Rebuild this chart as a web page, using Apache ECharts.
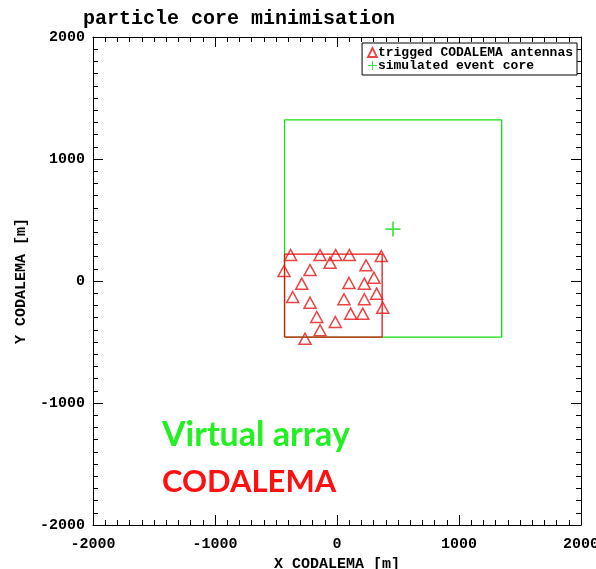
<!DOCTYPE html>
<html>
<head>
<meta charset="utf-8">
<script src="https://cdn.jsdelivr.net/npm/echarts@6/dist/echarts.min.js"></script>
<style>html,body{margin:0;padding:0;background:#fff;}#c{width:596px;height:569px;}</style>
</head>
<body>
<div id="c"></div>
<script>
// ---- data ----
const antennaX = [-380,-139,-11,101,363,-57,-434,-221,238,303,-289,98,224,325,-363,57,224,-221,375,112,211,-166,-14,-139,-262];
const antennaY = [213,213,213,213,205,150,82,90,129,27,-22,-16,-22,-104,-131,-150,-150,-178,-219,-268,-268,-295,-336,-404,-473];
const coreX = [459];
const coreY = [426];
const virtualBoxX = [-430, 1350];
const virtualBoxY = [-460, 1320];
const codalemaBoxX = [-430, 370];
const codalemaBoxY = [-460, 220];
const axisMin = -2000, axisMax = 2000, axisStep = 1000;

function boxPath(bx, by) {
  return [[bx[0],by[0]],[bx[1],by[0]],[bx[1],by[1]],[bx[0],by[1]],[bx[0],by[0]]];
}
const antennaPts = antennaX.map((x,i)=>[x, antennaY[i]]);
const corePts = coreX.map((x,i)=>[x, coreY[i]]);

const MONO = '"Liberation Mono", "DejaVu Sans Mono", monospace';
const GREEN = '#10e010';
const RED = '#e41414';
const CROSS = 'path://M6.2,0H7.8V6.2H14V7.8H7.8V14H6.2V7.8H0V6.2H6.2Z';

function mkAxis(pos, showLabel, name, isY) {
  return {
    type: 'value', position: pos, min: axisMin, max: axisMax, interval: axisStep,
    name: showLabel ? name : '', nameLocation: 'middle',
    nameGap: isY ? 50 : 27,
    nameTextStyle: {fontFamily: MONO, fontSize: 15, fontWeight: 'bold', color: '#000'},
    axisLine: {show: true, onZero: false, lineStyle: {color: '#000', width: 1}},
    axisTick: {show: true, inside: true, length: 10, lineStyle: {color: '#000'}},
    minorTick: {show: true, splitNumber: 10, length: 5, lineStyle: {color: '#000'}},
    splitLine: {show: false},
    axisLabel: {show: showLabel, fontFamily: MONO, fontSize: 15, fontWeight: 'bold', color: '#000',
      margin: isY ? 8 : 12, showMinLabel: true, showMaxLabel: true, hideOverlap: false,
      formatter: v => String(v)},
  };
}

const chart = echarts.init(document.getElementById('c'), null, {renderer: 'canvas'});
chart.setOption({
  animation: false,
  backgroundColor: '#fff',
  title: {
    text: 'particle core minimisation', left: 78, top: 4,
    textStyle: {fontFamily: MONO, fontSize: 20, fontWeight: 'bold', color: '#000'}
  },
  grid: {left: 93, top: 37, width: 488, height: 488, outerBoundsMode: 'none', containLabel: false},
  xAxis: [mkAxis('bottom', true, 'X CODALEMA [m]', false), mkAxis('top', false, '', false)],
  yAxis: [mkAxis('left', true, 'Y CODALEMA [m]', true), mkAxis('right', false, '', true)],
  legend: {
    orient: 'vertical', right: 19, top: 43,
    padding: [3, 4, 3, 5], itemGap: 0, itemWidth: 9, itemHeight: 9,
    borderColor: '#000', borderWidth: 1, backgroundColor: '#fff',
    textStyle: {fontFamily: MONO, fontSize: 13, fontWeight: 'bold', color: '#000', padding: [0,0,0,-4], lineHeight: 10},
    data: [
      {name: 'trigged CODALEMA antennas', icon: 'triangle', itemStyle: {color: 'rgba(0,0,0,0)', borderColor: RED, borderWidth: 1.8}},
      {name: 'simulated event core', icon: CROSS, itemStyle: {color: GREEN}}
    ]
  },
  graphic: [
    {type: 'text', left: 162, top: 418, style: {text: 'Virtual array', font: 'bold 34px Lato, "Open Sans", sans-serif', fill: '#22f022'}},
    {type: 'text', left: 162, top: 466, style: {text: 'CODALEMA', font: 'bold 31px Lato, "Open Sans", sans-serif', fill: '#ff1010'}}
  ],
  series: [
    {type: 'line', name: 'virtualBox', data: boxPath(virtualBoxX, virtualBoxY), symbol: 'none',
      lineStyle: {color: GREEN, width: 1.3}, silent: true},
    {type: 'line', name: 'codalemaBox', data: boxPath(codalemaBoxX, codalemaBoxY), symbol: 'none',
      lineStyle: {color: RED, width: 1.3}, silent: true},
    {type: 'scatter', name: 'trigged CODALEMA antennas', data: antennaPts, symbol: 'triangle', symbolSize: [12, 11],
      itemStyle: {color: 'rgba(0,0,0,0)', borderColor: RED, borderWidth: 1.5}},
    {type: 'scatter', name: 'simulated event core', data: corePts, symbol: CROSS, symbolSize: 15,
      itemStyle: {color: GREEN}}
  ]
});
</script>
</body>
</html>
